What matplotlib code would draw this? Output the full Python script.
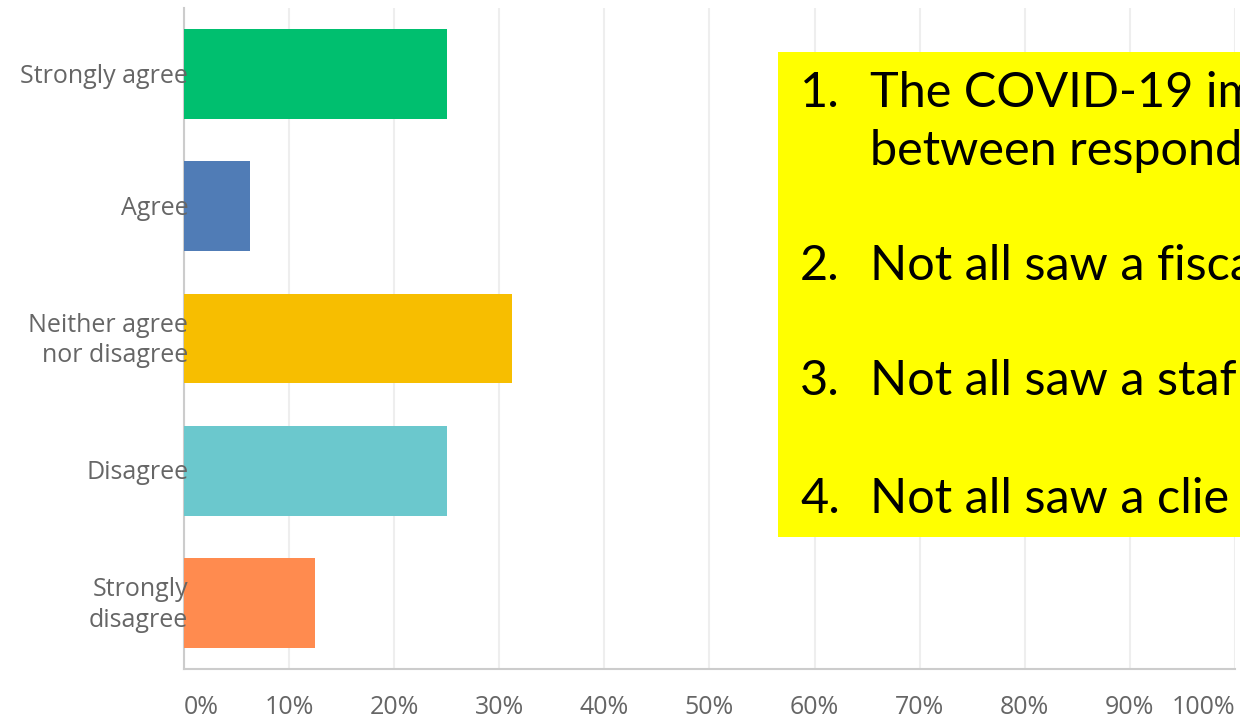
import matplotlib.pyplot as plt
from matplotlib.patches import Rectangle

categories = ["Strongly agree", "Agree", "Neither agree\nnor disagree", "Disagree", "Strongly\ndisagree"]
shares = [25.0, 6.25, 31.25, 25.0, 12.5]
bar_colors = ["#00BF6F", "#507CB6", "#F7BE00", "#6BC8CD", "#FF8B4F"]
x_ticks = [0, 10, 20, 30, 40, 50, 60, 70, 80, 90, 100]

notes = [
    ("1.", "The COVID-19 imp", 107),
    ("", "between respond", 165),
    ("2.", "Not all saw a fisca", 280),
    ("3.", "Not all saw a staf", 395),
    ("4.", "Not all saw a clie", 513),
]

W, H = 1240, 722
plt.rcParams["font.family"] = ["Open Sans", "DejaVu Sans"]

fig = plt.figure(figsize=(W / 100, H / 100), dpi=100)
ax = fig.add_axes([184 / W, 1 - 669 / H, (1235 - 184) / W, (669 - 8) / H])

ax.barh(range(len(categories)), shares, height=0.68, color=bar_colors, zorder=3)
ax.set_ylim(len(categories) - 0.5, -0.5)
ax.set_xlim(0, 100)

# category labels sit on top of the bar edge
ax.set_yticks(range(len(categories)))
ax.set_yticklabels([])
ax.tick_params(axis="y", length=0)
for i, cat in enumerate(categories):
    ax.text(0.004, i + 0.015, cat, transform=ax.get_yaxis_transform(), ha="right",
            va="center", fontsize=18, color="#666666", linespacing=1.3, zorder=5,
            clip_on=False)

ax.set_xticks(x_ticks)
ax.set_xticklabels([f"{t}%" for t in x_ticks], fontsize=18, color="#666666")
ax.tick_params(axis="x", length=0, pad=19)
xlabels = ax.get_xticklabels()
xlabels[0].set_ha("left")
xlabels[-1].set_ha("right")

ax.grid(axis="x", color="#eeeeee", linewidth=1.5, zorder=0)
for side in ["top", "right"]:
    ax.spines[side].set_visible(False)
for side in ["left", "bottom"]:
    ax.spines[side].set_color("#cccccc")
    ax.spines[side].set_linewidth(1.5)

# yellow call-out box with the key findings
fig.patches.append(Rectangle((778 / W, 1 - 537 / H), 1.0, (537 - 52) / H,
                             transform=fig.transFigure, facecolor="#FFFF00",
                             edgecolor="none", zorder=5))
for num, line, y in notes:
    if num:
        fig.text(800 / W, 1 - y / H, num, fontsize=35, family=["Lato", "DejaVu Sans"],
                 color="black", va="baseline", zorder=6)
    fig.text(870 / W, 1 - y / H, line, fontsize=35, family=["Lato", "DejaVu Sans"],
             color="black", va="baseline", zorder=6)

fig.savefig("out.png", dpi=100)
